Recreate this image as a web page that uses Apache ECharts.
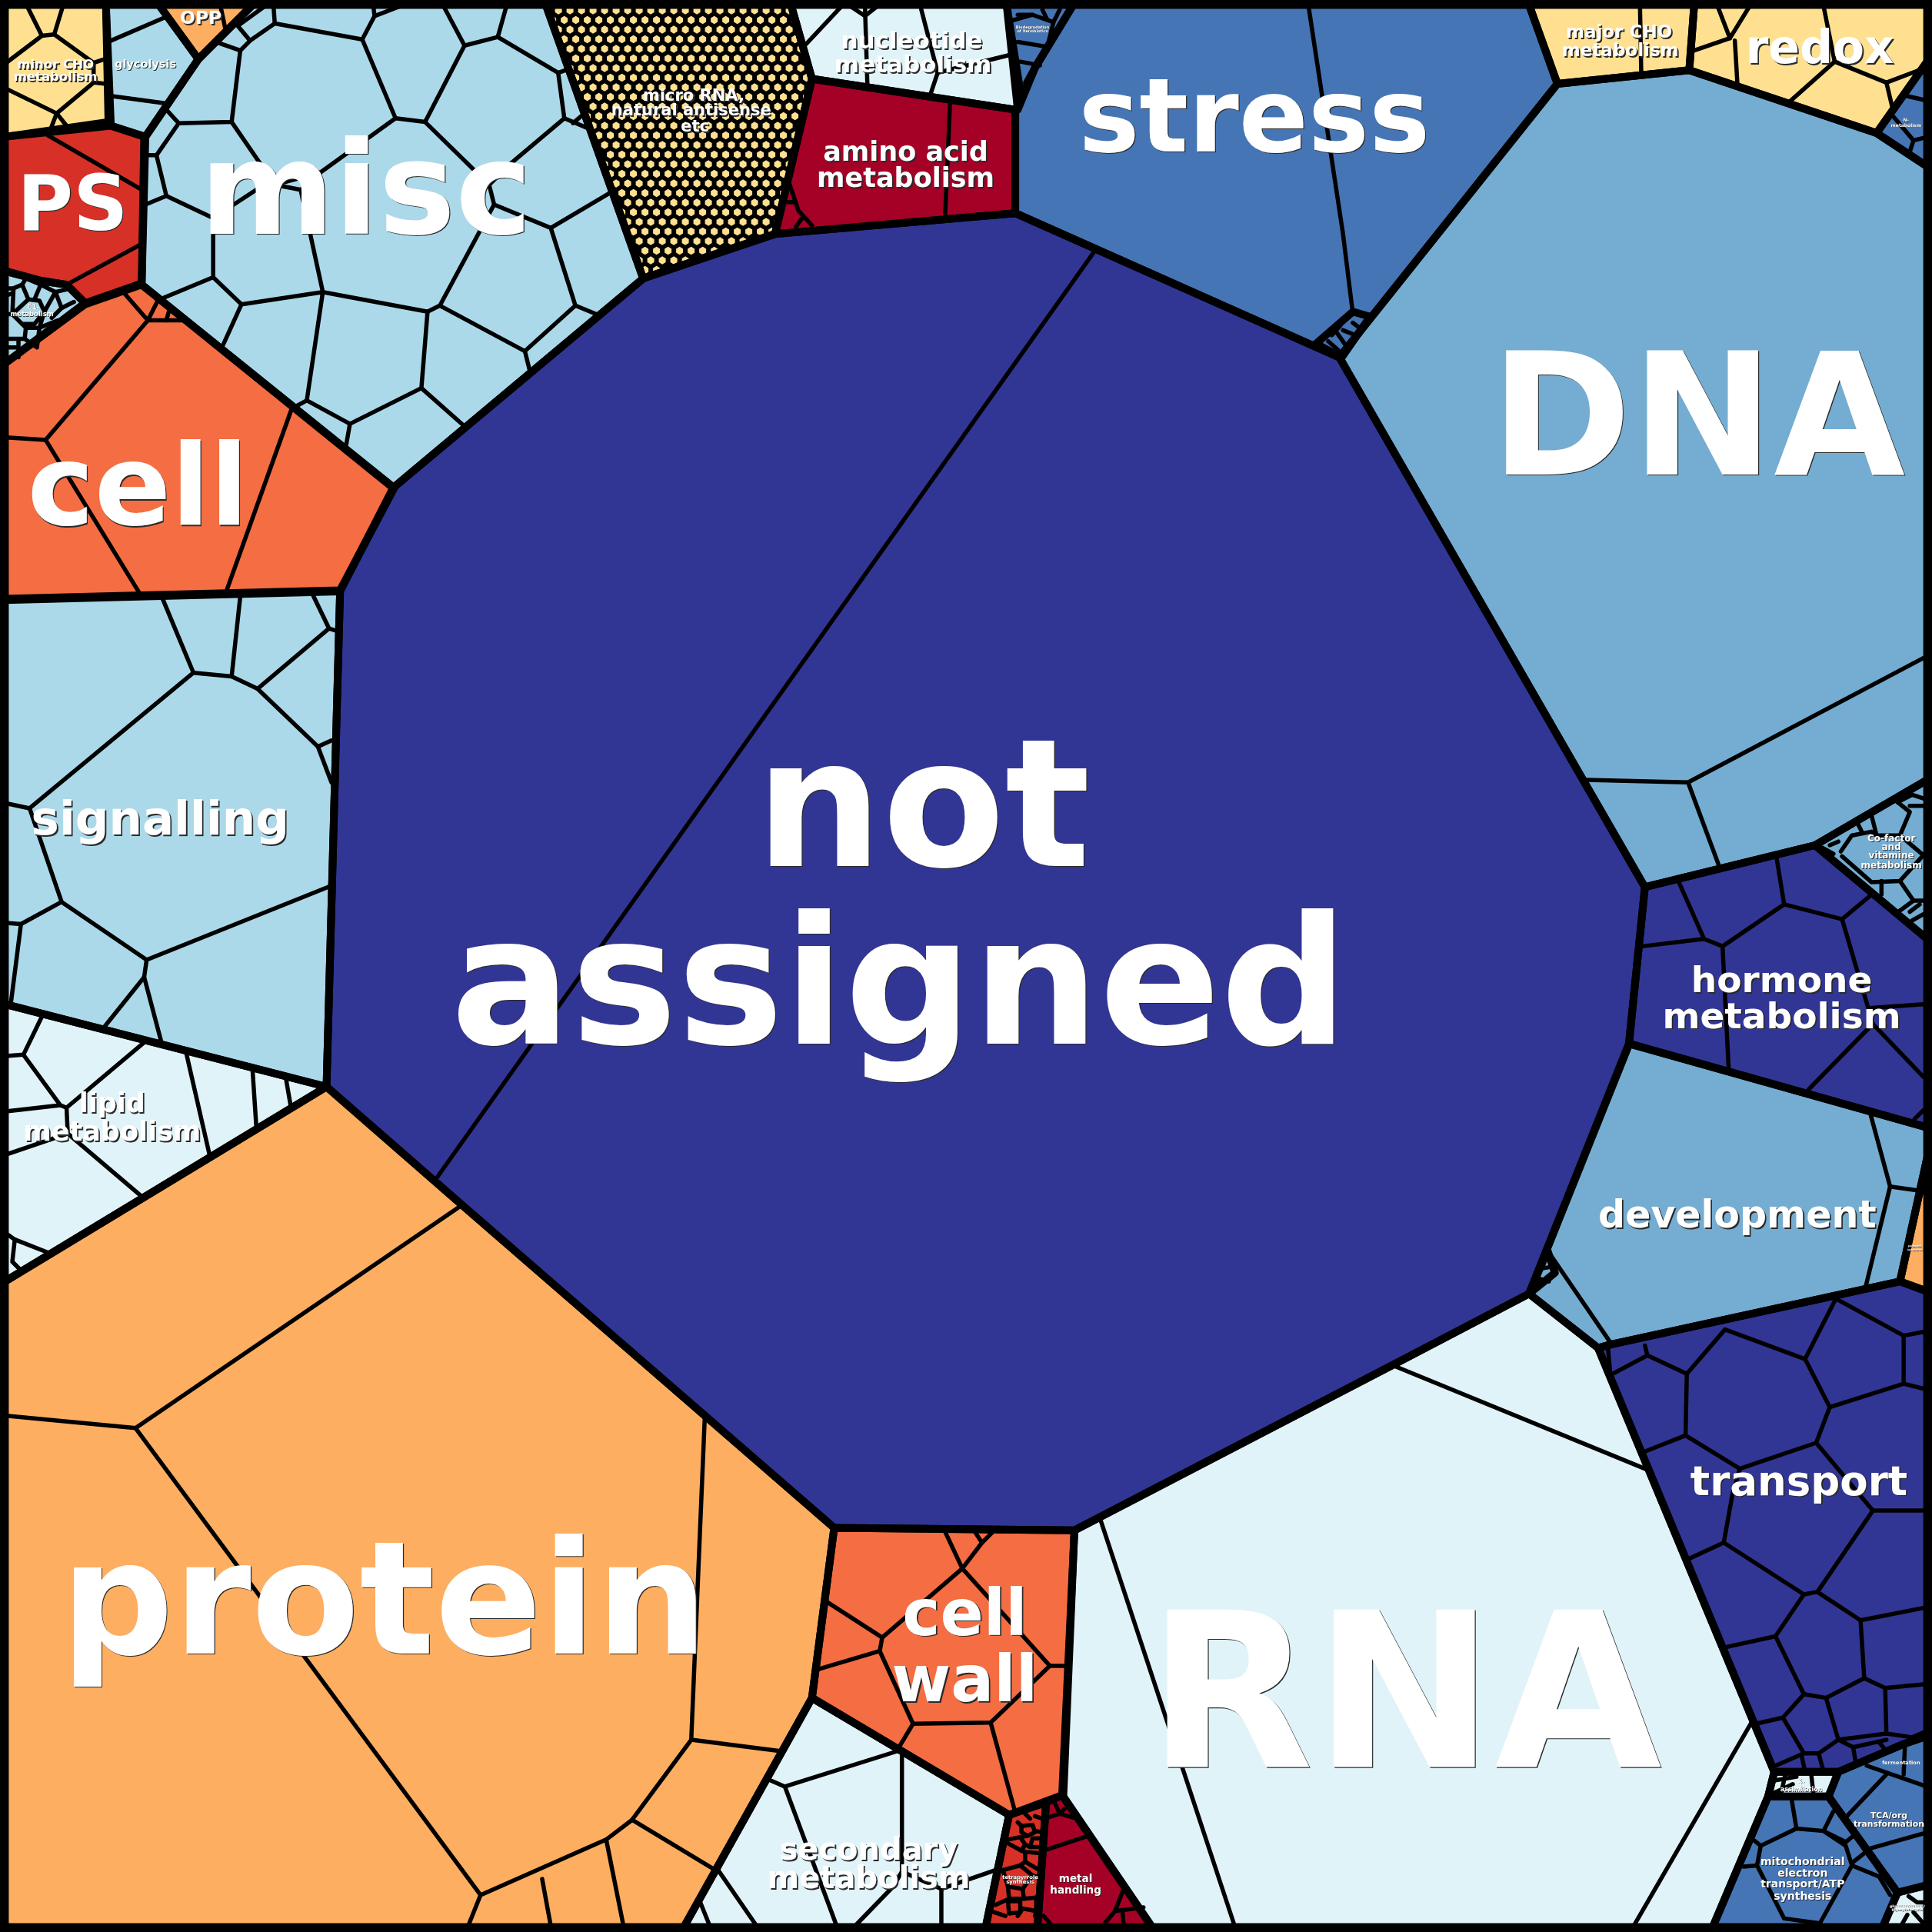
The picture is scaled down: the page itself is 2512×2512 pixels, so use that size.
<!DOCTYPE html>
<html><head><meta charset="utf-8">
<style>html,body{margin:0;padding:0;background:#000}#c{width:2512px;height:2512px}</style>
<script src="https://cdn.jsdelivr.net/npm/echarts@6/dist/echarts.min.js"></script>
</head><body><div id="c"></div>
<script>
// Voronoi treemap: outlines and inner walls are data in a 0..1568 plane.
const palette = {d1:'#313695',d2:'#4575b4',d3:'#74add1',d4:'#abd9e9',d5:'#e0f3f8',y:'#fee090',o1:'#fdae61',o2:'#f46d43',r1:'#d73027',r2:'#a50026'};

const regionNames = ['not assigned','stress','DNA','Co-factor and vitamine metabolism','hormone metabolism','development','development mesh','polyamine metabolism','transport','S-assimilation','TCA/org transformation','mitochondrial electron transport/ATP synthesis','gluconeogenesis','RNA','cell wall','tetrapyrrole synthesis','metal handling','secondary metabolism','protein','lipid metabolism','signalling','cell','PS','C1-metabolism','minor CHO metabolism','glycolysis','OPP','misc','micro RNA','nucleotide metabolism','Biodegradation of Xenobiotics','amino acid metabolism','major CHO metabolism','redox','N-metabolism','stress mesh'];
const regionColors = ['d1','d2','d3','d3','d1','d3','d3','o1','d1','d5','d2','d2','d5','d5','o2','r1','r2','d5','o1','d5','d4','o2','r1','d4','y','d4','o1','d4','dots','d5','d2','r2','y','y','d2','d2'];

const regionOutlines = [
 [628,190,824,173,1087,290,1335,720,1322,848,1241,1050,1130,1108,872,1242,677,1240,375,978,265,882,276,480,319,396,522,226],
 [871,4,1241,4,1264,68,1087,290,824,173,824,90,840,55],
 [1264,68,1371,57,1523,108,1564,135,1564,633,1473,686,1335,720,1087,290],
 [1473,686,1564,633,1564,762],
 [1335,720,1473,686,1564,762,1564,915,1322,847],
 [1322,847,1564,915,1564,940,1542,1040,1308,1091,1297,1094,1241,1050],
 [1256,1015,1262,1033,1241,1050],
 [1564,940,1564,1048,1542,1040],
 [1297,1094,1308,1091,1542,1040,1564,1048,1564,1409,1546,1415,1492,1438,1440,1438],
 [1440,1438,1492,1438,1484,1458,1435,1458],
 [1492,1438,1546,1415,1564,1409,1564,1530,1540,1536,1484,1458],
 [1435,1458,1484,1458,1540,1536,1528,1564,1390,1564],
 [1540,1536,1564,1530,1564,1564,1528,1564],
 [872,1242,1130,1108,1241,1050,1297,1094,1440,1438,1435,1458,1390,1564,935,1564,863,1458],
 [677,1240,872,1242,862,1457,819,1473,659,1378],
 [819,1473,849,1463,842,1564,800,1564],
 [849,1463,862,1457,935,1564,842,1564],
 [659,1378,819,1473,800,1564,555,1564],
 [4,1040,265,882,375,978,677,1240,659,1378,555,1564,4,1564],
 [4,815,265,882,4,1040],
 [4,487,276,480,265,882,4,815],
 [4,295,69,247,115,231,320,396,276,479,4,486],
 [4,111,90,102,117,111,115,230,69,246,54,231,34,228,4,220],
 [4,220,34,228,54,231,69,246,4,295],
 [4,4,86,4,88,99,4,111],
 [86,4,129,4,161,48,118,111,90,102],
 [129,4,205,4,161,48],
 [161,48,205,4,443,4,522,226,319,396,115,231,118,111],
 [443,4,642,4,659,64,629,190,522,226],
 [642,4,817,4,829,80,824,89,659,64],
 [817,4,871,4,840,55,826,89],
 [659,64,824,89,824,173,629,190],
 [1241,4,1375,4,1371,57,1264,68],
 [1375,4,1564,4,1564,50,1523,108,1371,57],
 [1564,50,1564,135,1523,108],
 [1098,253,1112,257,1089,290,1068,279]
];

const thinWalls = [
 [889,203,353,958],
 [1062,5,1090,190,1098,255],
 [1287,633,1370,635,1396,705],[1370,635,1563,533],
 [1494,691,1503,678,1519,675,1523,678,1542,678,1561,694],[1519,662,1523,678],[1540,651,1550,659,1542,678],[1495,695,1519,716,1542,715,1561,694],[1542,715,1553,731,1561,731],[1527,715,1527,726],[1553,731,1542,739],[1550,740,1558,734],[1552,747,1561,742],[1540,651,1552,645,1561,648],[1550,654,1561,654],[1508,669,1511,675],[1485,686,1492,683],[1479,688,1488,693],
 [1363,717,1383,762,1333,768],[1383,762,1398,768,1403,868],[1398,768,1448,734,1442,697],[1448,734,1495,746,1519,726],[1495,746,1520,831,1561,874],[1519,818,1561,815],[1520,831,1468,884],[1554,908,1561,901],
 [1518,904,1534,963,1514,1045],[1534,963,1555,966],[1256,1015,1308,1091],
 [1248,1030,1260,1028],[1250,1038,1257,1040],
 [1305,1094,1307,1116],[1307,1116,1337,1100,1335,1092],[1337,1100,1369,1115,1400,1079,1465,1103,1490,1054],[1490,1054,1545,1084,1545,1123,1485,1142,1465,1103],[1545,1084,1561,1081],[1545,1123,1561,1127],[1485,1142,1474,1171,1412,1192,1368,1165,1369,1115],[1368,1165,1335,1178],[1474,1171,1520,1226,1561,1226],[1412,1192,1406,1213,1399,1252,1371,1265],[1399,1252,1464,1294,1475,1292,1520,1226],[1475,1292,1510,1315,1561,1305],[1510,1315,1513,1362,1482,1378,1464,1375,1441,1328,1464,1294],[1441,1328,1400,1337],[1513,1362,1530,1370,1561,1367],[1530,1370,1531,1407,1552,1410,1561,1406],[1482,1378,1492,1412,1531,1407],[1492,1412,1476,1423,1464,1423,1447,1394,1464,1375],[1447,1394,1425,1399],[1464,1423,1441,1433],[1462,1424,1465,1438],[1476,1423,1480,1438],[1492,1412,1504,1418,1506,1430],[1504,1418,1531,1412],[1525,1414,1531,1421],
 [1449,1440,1445,1458],[1470,1440,1472,1458],[1440,1445,1458,1442],[1440,1455,1455,1448],
 [1515,1433,1561,1449],[1546,1417,1545,1440],[1532,1439,1497,1476],[1515,1501,1561,1488],
 [1454,1460,1458,1484],[1488,1470,1480,1486],[1424,1494,1429,1498,1458,1484,1480,1486,1498,1498,1503,1514,1477,1561],[1429,1498,1426,1514,1448,1557,1477,1561],[1426,1514,1415,1515],[1503,1514,1525,1523,1534,1538],[1503,1512,1517,1501],[1480,1486,1498,1495,1504,1490],
 [1549,1539,1556,1544,1561,1544],[1548,1554,1544,1561],[1553,1552,1561,1561],
 [1130,1108,1335,1192],[893,1233,1002,1563],[1422,1397,1326,1563],
 [767,1243,781,1273,797,1252,806,1243],[791,1243,797,1252],[781,1273,716,1329,671,1300],[716,1329,714,1340,663,1355],[714,1340,741,1399,804,1398,852,1352,781,1273],[852,1352,865,1352],[741,1399,729,1419],[804,1398,824,1471],
 [826,1479,829,1482,838,1481,840,1487,834,1490,829,1487,829,1482],[834,1490,828,1491,832,1497,836,1499,838,1492,846,1492],[818,1493,828,1491],[818,1496,829,1502,832,1497],[836,1499,845,1499],[829,1502,832,1503,844,1504],[832,1503,832,1511,844,1518],[832,1511,828,1514,813,1518],[828,1514,838,1522,830,1533,818,1531,814,1518],[818,1531,819,1541,831,1541,830,1533],[831,1541,841,1540],[838,1522,844,1524],[819,1541,808,1546],[819,1541,818,1543,828,1543,828,1552,819,1553,818,1543],[828,1552,830,1549,841,1551,841,1540],[807,1552,816,1555],[826,1555,828,1552],[840,1555,841,1551],[840,1486,846,1487],[840,1474,846,1476],[832,1472,836,1476],
 [850,1501,883,1490],[874,1476,860,1472,851,1475],[912,1533,905,1551,895,1563],[912,1533,922,1546],[905,1551,928,1548],[911,1551,912,1563],[847,1555,854,1563],[864,1468,860,1472],[856,1463,860,1472],
 [729,1421,637,1450,623,1444],[637,1450,679,1563],[732,1421,732,1519,764,1533,810,1517],[764,1533,764,1563],[732,1519,725,1531,694,1563],[583,1518,614,1563],[568,1543,576,1563],
 [375,978,110,1159,5,1149],[110,1159,390,1538,380,1563],[572,1150,561,1412,513,1477,492,1493,390,1538],[561,1412,632,1421],[513,1477,581,1518],[492,1493,506,1563],[440,1525,447,1563],
 [34,825,19,856,5,857],[19,856,49,897,5,902],[49,897,54,899,117,846],[54,899,55,920,5,937],[55,920,115,971],[151,854,170,937],[205,869,208,914],[232,875,236,898],[5,1001,12,1006,40,1017],[12,1006,10,1024,17,1031],
 [132,486,157,546,188,549,195,484],[188,549,209,559,267,510,254,483],[267,510,273,512],[209,559,258,606,269,601],[258,606,269,635],[157,546,24,656,5,652],[24,656,50,732,17,750,5,749],[17,750,9,813],[50,732,119,779,266,720],[119,779,117,793,85,833],[117,793,131,846],
 [100,237,120,260,129,242],[137,253,135,260],[120,260,151,260],[120,260,37,357,5,355],[37,357,113,481],[237,331,184,479],
 [39,110,115,154],[34,228,54,231,113,199],
 [23,243,32,244,36,253,28,263,18,263,10,255,23,243],[23,243,18,231,21,226,33,231,28,243],[33,231,45,237,36,253],[11,234,18,231],[5,234,11,234,10,255],[10,255,5,255],[18,263,21,266,32,266,36,253],[21,266,20,275,5,275],[15,277,15,290],[32,266,47,260],[21,226,14,222],[45,237,58,234],[45,237,50,250],[50,250,60,245],[42,258,50,250],[20,275,30,282,32,266],[5,240,10,238],[5,282,14,282],
 [22,5,34,29,44,28,51,5],[34,29,5,51],[44,28,76,51,85,48],[76,51,76,67,86,68],[76,67,46,92,5,72],[46,92,41,105],[46,92,54,102],
 [90,33,134,14],[91,78,135,84],
 [179,5,183,24],
 [222,5,223,19,294,32,304,13,303,5],[304,13,325,5],[223,19,203,33,195,41,178,35],[203,33,193,21,215,5],[195,41,188,99,145,100,134,88],[145,100,127,126,118,126],[127,126,135,159,118,166],[135,159,173,177,173,225,132,242],[173,225,196,247,181,280],[196,247,262,237,249,325,238,331],[249,325,284,344,281,361],[284,344,342,315,347,253,262,237],[342,315,377,346],[347,253,357,248,401,166],[357,248,426,285,430,301],[426,285,467,248,484,255],[467,248,447,185,401,166,397,150,345,99,321,96,260,140,208,154,173,177],[447,185,496,156],[345,99,377,37,360,5],[377,37,404,30,411,5],[404,30,453,59,458,96,413,134,397,150],[453,59,462,56],[458,96,477,104],[472,94,465,100],[321,96,294,32],[188,99,223,150,244,154,262,237],[244,154,260,140],
 [683,5,653,37],[702,5,704,70],[690,5,702,13,712,5],[747,5,761,59,755,77],[761,59,822,44],
 [826,34,850,38],[820,17,838,12,855,18,850,38],[828,50,844,53],[832,67,838,56],[826,12,838,12],[855,18,860,8],[846,8,850,16],
 [771,85,767,176],[641,150,648,171,659,183],[637,164,645,164],[651,177,646,184],[659,66,654,76],
 [1331,5,1332,58],
 [1394,5,1404,31,1420,5],[1404,31,1375,41],[1408,33,1410,67],[1480,5,1489,50,1453,82],[1489,50,1531,67,1560,56],[1531,67,1536,88],
 [1548,78,1561,81],[1537,95,1553,114,1561,112],[1553,114,1550,123],
 [1098,262,1106,268],[1090,268,1100,272],[1085,270,1092,280],[1078,277,1086,284],[1081,272,1088,264]
];

const labelTexts = ['not','assigned','protein','RNA','DNA','misc','stress','cell','PS','redox','signalling','development','hormone','metabolism','transport','cell','wall','amino acid','metabolism','secondary','metabolism','lipid','metabolism','nucleotide','metabolism','micro RNA,','natural antisense','etc','major CHO','metabolism','minor CHO','metabolism','glycolysis','OPP','C1-','metabolism','Co-factor','and','vitamine','metabolism','fermentation','S-','assimilation','TCA/org','transformation','mitochondrial','electron','transport/ATP','synthesis','tetrapyrrole','synthesis','metal','handling','Biodegradation','of Xenobiotics','N-','metabolism','polyamine','metabolism','gluconeogenesis /','glyoxylate cycle'];
const labelX = [749,730,312,1140,1378,297,1018,112,59,1477,130,1410,1446,1446,1460,783,783,735,735,705,705,91,91,740,741,563,561,564,1314,1315,45,45,118,163,27,26,1535,1535,1535,1535,1543,1462,1462,1533,1533,1463,1463,1463,1463,828,828,873,873,838,838,1547,1547,1554,1554,1548,1548];
const labelY = [706,850,1345,1438,388,192,125,428,188,52,678,997,806,835,1214,1328,1382,131,152,1510,1533,903,926,40,59,82,94,107,31,46,56,66,55,20,251,257,683,690,697,705,1432,1448,1454,1476,1483,1514,1523,1532,1542,1525,1529,1528,1537,23,26,99,103,1012,1015,1548,1551];
const labelSize = [232,232,205,281,221,168,133,147,99,60,61,49,47,47,53,83,83,35,35,40,40,35,35,31,31,21,21,21,23,23,16.5,16.5,14.5,23.5,8.5,8.5,12,12,12,12,6.7,8,8,10.8,10.8,14,14,14,14,6.8,6.8,13.5,13.5,5,5,6,6,3,3,4.5,4.5];

function pairs(flat){const out=[];for(let i=0;i<flat.length;i+=2)out.push([flat[i],flat[i+1]]);return out;}

// honeycomb tile for the micro RNA region (yellow hexagons on black)
const tile=document.createElement('canvas');tile.width=15;tile.height=25;
(function(){const g=tile.getContext('2d');g.fillStyle='#000';g.fillRect(0,0,15,25);g.fillStyle=palette.y;
 [[13.6,1],[6.1,13.5]].forEach(function(c){[-15,0,15].forEach(function(dx){[-25,0,25].forEach(function(dy){
  g.beginPath();for(let k=0;k<6;k++){const a=Math.PI/6+k*Math.PI/3;const x=c[0]+dx+5.2*Math.cos(a),y=c[1]+dy+5.2*Math.sin(a);k?g.lineTo(x,y):g.moveTo(x,y);}g.closePath();g.fill();});});});})();
function fillOf(key){return key==='dots'?{image:tile,repeat:'repeat'}:palette[key];}

const chart=echarts.init(document.getElementById('c'),null,{renderer:'canvas',width:2512,height:2512});
const idx=a=>a.map((_,i)=>[i]);
function textEl(i,x,y,fill){const s=labelSize[i];return {type:'text',x:x,y:y,style:{text:labelTexts[i],font:'bold '+s+'px "DejaVu Sans"',fill:fill,align:'center',verticalAlign:'bottom'}};}
chart.setOption({
 animation:false,backgroundColor:'#000',
 grid:{left:0,right:0,top:0,bottom:0},
 xAxis:{type:'value',min:0,max:1568,show:false},
 yAxis:{type:'value',min:0,max:1568,inverse:true,show:false},
 series:[
  {type:'custom',coordinateSystem:'cartesian2d',clip:false,silent:true,data:idx(regionOutlines),encode:{x:0},
   renderItem:(p,api)=>{const i=api.value(0);return {type:'polygon',shape:{points:pairs(regionOutlines[i]).map(q=>api.coord(q))},style:{fill:fillOf(regionColors[i]),stroke:null}};}},
  {type:'custom',coordinateSystem:'cartesian2d',clip:false,silent:true,data:idx(thinWalls),encode:{x:0},
   renderItem:(p,api)=>{const i=api.value(0);return {type:'polyline',shape:{points:pairs(thinWalls[i]).map(q=>api.coord(q))},style:{fill:null,stroke:'#000',lineWidth:5.5,lineJoin:'round',lineCap:'round'}};}},
  {type:'custom',coordinateSystem:'cartesian2d',clip:false,silent:true,data:idx(regionOutlines),encode:{x:0},
   renderItem:(p,api)=>{const i=api.value(0);return {type:'polygon',shape:{points:pairs(regionOutlines[i]).map(q=>api.coord(q))},style:{fill:null,stroke:'#000',lineWidth:10,lineJoin:'round'}};}},
  {type:'custom',coordinateSystem:'cartesian2d',clip:false,silent:true,data:idx(labelTexts),encode:{x:0},
   renderItem:(p,api)=>{const i=api.value(0);const c=api.coord([labelX[i],labelY[i]]);const s=labelSize[i];const y=c[1]+0.218*s;const off=s<10?0.5:(s<16?1:(s>90?1.2:1.8));
    return {type:'group',children:[textEl(i,c[0]+off,y+off,'#2a2a2a'),textEl(i,c[0],y,'#fff')]};}}
 ]
});
</script></body></html>
